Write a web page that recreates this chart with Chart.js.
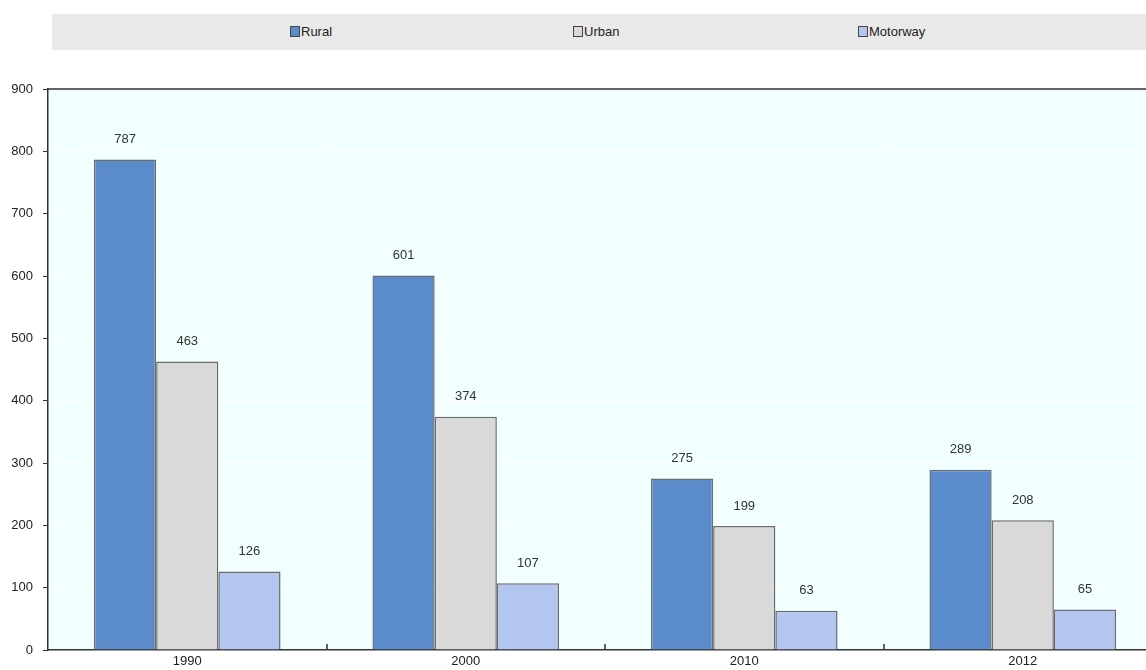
<!DOCTYPE html>
<html>
<head>
<meta charset="utf-8">
<script src="https://cdn.jsdelivr.net/npm/chart.js@4"></script>
<style>
  body { margin: 0; width: 1146px; height: 670px; overflow: hidden; background: #fff;
         font-family: "Liberation Sans Narrow", "Arial Narrow", "Liberation Sans", sans-serif; }
  #legend { position: absolute; left: 52px; top: 14px; width: 1094px; height: 36px; background: #e9e9e9; }
  .item { position: absolute; top: 11px; font-size: 13px; color: #222; line-height: 14px; }
  .box { display: inline-block; width: 8px; height: 9px; border: 1px solid #444; margin-right: 1px; vertical-align: -1px; }
  #wrap { position: absolute; left: 0; top: 60px; width: 1162px; height: 610px; }
</style>
</head>
<body>
<div id="legend"></div>
<div id="wrap"><canvas id="chart"></canvas></div>
<script>
const years = ["1990", "2000", "2010", "2012"];
const rural = [787, 601, 275, 289];
const urban = [463, 374, 199, 208];
const motorway = [126, 107, 63, 65];
const yTicks = [0, 100, 200, 300, 400, 500, 600, 700, 800, 900];

const series = [
  { label: "Rural", data: rural, color: "#5a8bcb", left: 238 },
  { label: "Urban", data: urban, color: "#d9d9d9", left: 521 },
  { label: "Motorway", data: motorway, color: "#b3c6f0", left: 806 },
];

const legend = document.getElementById("legend");
legend.innerHTML = series
  .map(
    (s) => `<div class="item" style="left:${s.left}px"><span class="box" style="background:${s.color}"></span>${s.label}</div>`,
  )
  .join("");

const FONT = "'Liberation Sans Narrow', 'Arial Narrow', 'Liberation Sans', sans-serif";

const plotFrame = {
  id: "plotFrame",
  beforeDraw(chart) {
    const { ctx, chartArea: a } = chart;
    ctx.save();
    ctx.fillStyle = "#f2ffff";
    ctx.fillRect(a.left, a.top, a.right - a.left, a.bottom - a.top);
    ctx.restore();
  },
  afterDatasetsDraw(chart) {
    const { ctx, chartArea: a } = chart;
    const x = chart.scales.x;
    ctx.save();
    ctx.strokeStyle = "#333";
    ctx.lineWidth = 1.5;
    ctx.beginPath();
    ctx.moveTo(a.left, a.top);
    ctx.lineTo(a.right, a.top);
    const step = x.getPixelForValue(1) - x.getPixelForValue(0);
    for (let i = 1; i < years.length; i++) {
      const px = Math.round(x.getPixelForValue(i) - step / 2);
      ctx.moveTo(px, a.bottom);
      ctx.lineTo(px, a.bottom - 6);
    }
    ctx.stroke();
    // value labels
    ctx.fillStyle = "#333";
    ctx.font = "13px " + FONT;
    ctx.textAlign = "center";
    ctx.textBaseline = "middle";
    chart.data.datasets.forEach((ds, di) => {
      chart.getDatasetMeta(di).data.forEach((bar, i) => {
        ctx.fillText(String(ds.data[i]), bar.x, bar.y - 20);
      });
    });
    ctx.restore();
  },
};

new Chart(document.getElementById("chart"), {
  type: "bar",
  data: {
    labels: years,
    datasets: series.map((s) => ({
      label: s.label,
      data: s.data,
      backgroundColor: s.color,
      borderColor: "#6b6b6b",
      borderWidth: 1.5,
      categoryPercentage: 0.67,
      barPercentage: 1,
    })),
  },
  options: {
    responsive: true,
    maintainAspectRatio: false,
    animation: false,
    layout: { padding: { top: 29, left: 0, right: 0, bottom: 0 } },
    plugins: { legend: { display: false }, tooltip: { enabled: false } },
    scales: {
      x: {
        afterFit(scale) { scale.height = 20; },
        grid: { display: false, drawTicks: false },
        border: { color: "#333", width: 1.5 },
        ticks: { color: "#222", font: { size: 13, family: FONT }, padding: 4 },
      },
      y: {
        min: 0,
        max: 900,
        afterFit(scale) { scale.width = 48; },
        afterBuildTicks(scale) { scale.ticks = yTicks.map((v) => ({ value: v })); },
        grid: { color: "#ffffff", lineWidth: 1, tickColor: "#333", tickLength: 5 },
        border: { color: "#333", width: 1.5 },
        ticks: { color: "#222", font: { size: 13, family: FONT }, padding: 10 },
      },
    },
  },
  plugins: [plotFrame],
});
</script>
</body>
</html>
